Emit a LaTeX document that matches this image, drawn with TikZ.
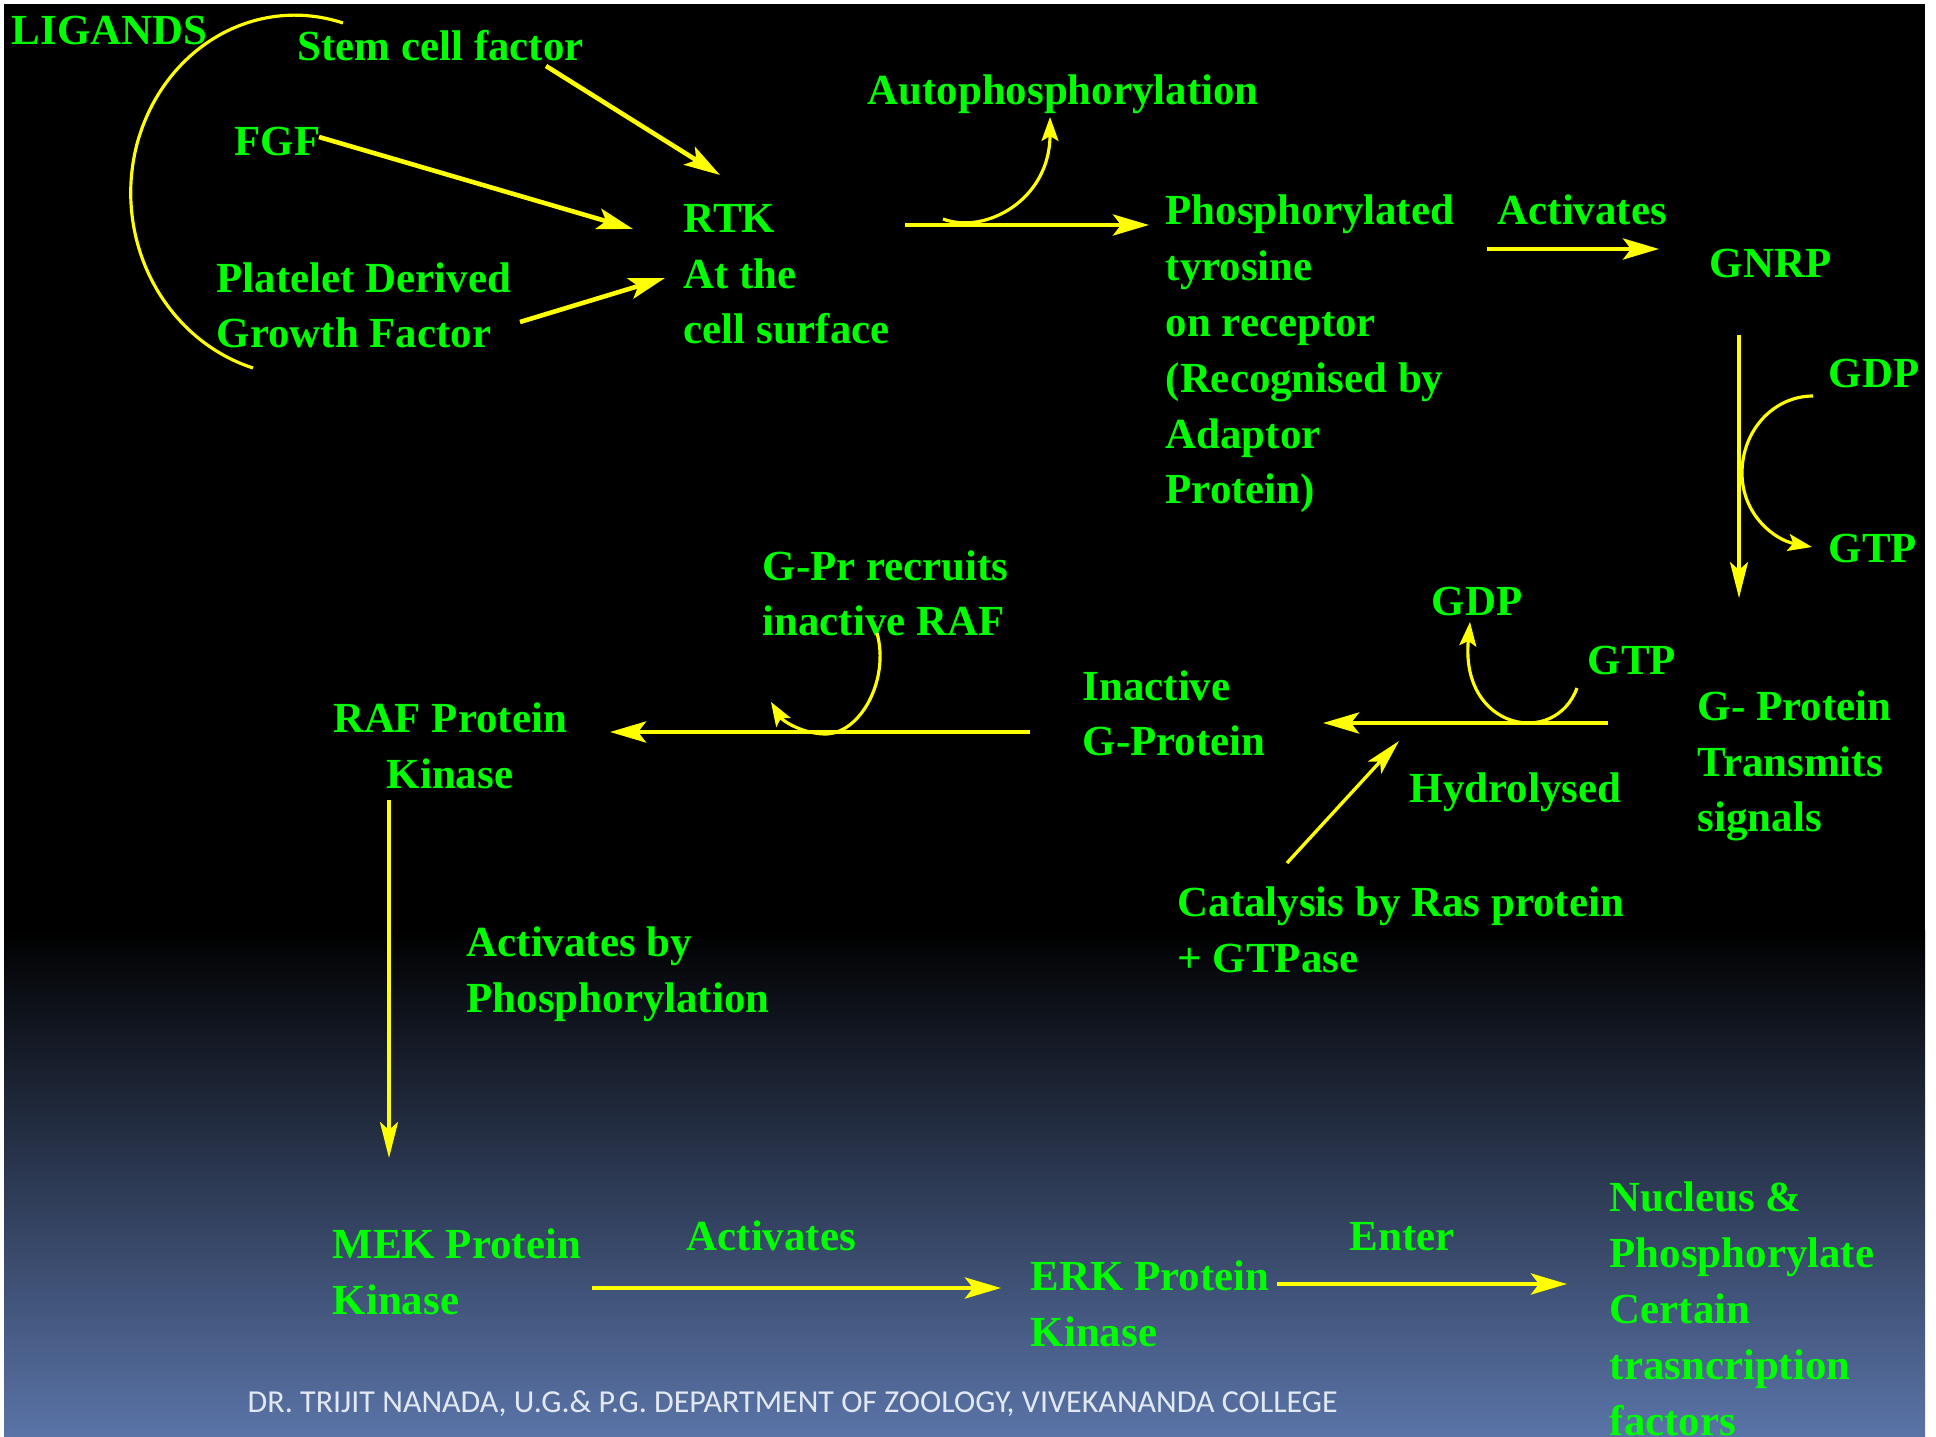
\documentclass[tikz,border=0pt]{standalone}
\usepackage{fontspec}
\setmainfont{Liberation Serif}
\setsansfont{Carlito}
\usetikzlibrary{arrows.meta}
\definecolor{lblgreen}{RGB}{0,255,0}
\definecolor{arwyellow}{RGB}{255,255,0}
\definecolor{slideblue}{RGB}{90,116,168}
\definecolor{footgrey}{RGB}{225,232,242}

\begin{document}
\begin{tikzpicture}[
		x=0.01cm, y=-0.01cm,
		lbl/.style={text=lblgreen,font=\fontsize{12.2}{15.9}\selectfont\bfseries,inner sep=0pt,anchor=base west,align=left},
		flow/.style={draw=arwyellow,line width=1.3pt,-{Stealth[length=0.36cm,width=0.21cm,inset=0.08cm]}},
		slim/.style={draw=arwyellow,line width=0.95pt,-{Stealth[length=0.36cm,width=0.18cm,inset=0.08cm]}},
		curl/.style={draw=arwyellow,line width=0.9pt,-{Stealth[length=0.24cm,width=0.17cm,inset=0.05cm]}}
		]
		\useasboundingbox (0,0) rectangle (1936,1437);
		\fill[white] (0,0) rectangle (1936,1437);
		\fill[black] (4,4) rectangle (1925,931);
		\shade[top color=black,bottom color=slideblue] (4,930) rectangle (1925,1437);

		% multi-line labels sit on the baseline of their last line
		\node[lbl] (ligands) at (11,45) {LIGANDS};
		\node[lbl] (scf) at (297,61) {Stem cell factor};
		\node[lbl] (fgf) at (234,156) {FGF};
		\node[lbl] (pdgf) at (216,348) {Platelet Derived\\Growth Factor};
		\node[lbl] (rtk) at (683,344) {RTK\\At the\\cell surface};
		\node[lbl] (auto) at (867,105) {Autophosphorylation};
		\node[lbl] (ptyr) at (1165,504) {Phosphorylated\\tyrosine\\on receptor\\(Recognised by\\Adaptor\\Protein)};
		\node[lbl] (act1) at (1497,225) {Activates};
		\node[lbl] (gnrp) at (1709,278) {GNRP};
		\node[lbl] (gdp1) at (1828,388) {GDP};
		\node[lbl] (gtp1) at (1828,563) {GTP};
		\node[lbl] (gpr) at (762,636) {G-Pr recruits\\inactive RAF};
		\node[lbl] (gdp2) at (1431,616) {GDP};
		\node[lbl] (gtp2) at (1587,675) {GTP};
		\node[lbl] (inact) at (1082,756) {Inactive\\G-Protein};
		\node[lbl] (gprot) at (1697,832) {G- Protein\\Transmits\\signals};
		\node[lbl,anchor=base,align=center] (raf) at (450,788) {RAF Protein\\Kinase};
		\node[lbl] (hydro) at (1409,803) {Hydrolysed};
		\node[lbl] (ras) at (1177,972) {Catalysis by Ras protein\\+ GTPase};
		\node[lbl] (actp) at (466,1012) {Activates by\\Phosphorylation};
		\node[lbl] (mek) at (332,1314) {MEK Protein\\Kinase};
		\node[lbl] (act2) at (686,1250) {Activates};
		\node[lbl] (erk) at (1030,1346) {ERK Protein\\Kinase};
		\node[lbl] (enter) at (1349,1250) {Enter};
		\node[lbl] (nucleus) at (1609,1435) {Nucleus \&\\Phosphorylate\\Certain\\trasncription\\factors};
		\node[text=footgrey,font=\sffamily\fontsize{9.1}{11}\selectfont,inner sep=0pt,anchor=base west] (credit) at (247,1412)
		{DR. TRIJIT NANADA, U.G.\& P.G. DEPARTMENT OF ZOOLOGY, VIVEKANANDA COLLEGE};

		\coordinate (scf-out) at (546,66);
		\coordinate (rtk-a) at (720,175);
		\coordinate (fgf-out) at (319,137);
		\coordinate (rtk-b) at (633,229);
		\coordinate (pdgf-out) at (520,322);
		\coordinate (rtk-c) at (665,278);
		\coordinate (rtk-out) at (905,225);
		\coordinate (ptyr-in) at (1149,225);
		\coordinate (act1-out) at (1487,249);
		\coordinate (gnrp-in) at (1659,249);
		\coordinate (gnrp-out) at (1739,335);
		\coordinate (gprot-in) at (1739,598);
		\coordinate (hydro-out) at (1608,723);
		\coordinate (inact-in) at (1323,723);
		\coordinate (ras-out) at (1287,863);
		\coordinate (hydro-in) at (1399,741);
		\coordinate (inact-out) at (1030,732);
		\coordinate (raf-in) at (610,732);
		\coordinate (raf-out) at (389,800);
		\coordinate (mek-in) at (389,1158);
		\coordinate (mek-out) at (592,1288);
		\coordinate (erk-in) at (1001,1288);
		\coordinate (erk-out) at (1277,1284);
		\coordinate (nucleus-in) at (1567,1284);

		\path
		(scf-out) edge[flow] (rtk-a)
		(fgf-out) edge[flow] (rtk-b)
		(pdgf-out) edge[flow] (rtk-c)
		(rtk-out) edge[flow] (ptyr-in)
		(act1-out) edge[flow] (gnrp-in)
		(gnrp-out) edge[slim] (gprot-in)
		(hydro-out) edge[flow] (inact-in)
		(ras-out) edge[slim] (hydro-in)
		(inact-out) edge[flow] (raf-in)
		(raf-out) edge[slim] (mek-in)
		(mek-out) edge[flow] (erk-in)
		(erk-out) edge[flow] (nucleus-in);

		\draw[arwyellow,line width=0.9pt] (343,23) .. controls (255,-6) and (163,48) .. (137,144)
			.. controls (112,240) and (164,339) .. (253,368);
		\draw[curl] (943,219) .. controls (985,235) and (1050,200) .. (1050,117);
		\draw[curl] (1813,396) .. controls (1774,396) and (1742,430) .. (1742,473)
			.. controls (1742,515) and (1775,540) .. (1812,547);
		\draw[curl] (1577,688) .. controls (1555,748) and (1460,730) .. (1470,622);
		\draw[curl] (877,633) .. controls (890,680) and (860,735) .. (824,734)
			.. controls (800,733) and (782,720) .. (771,702);
	\end{tikzpicture}
\end{document}
